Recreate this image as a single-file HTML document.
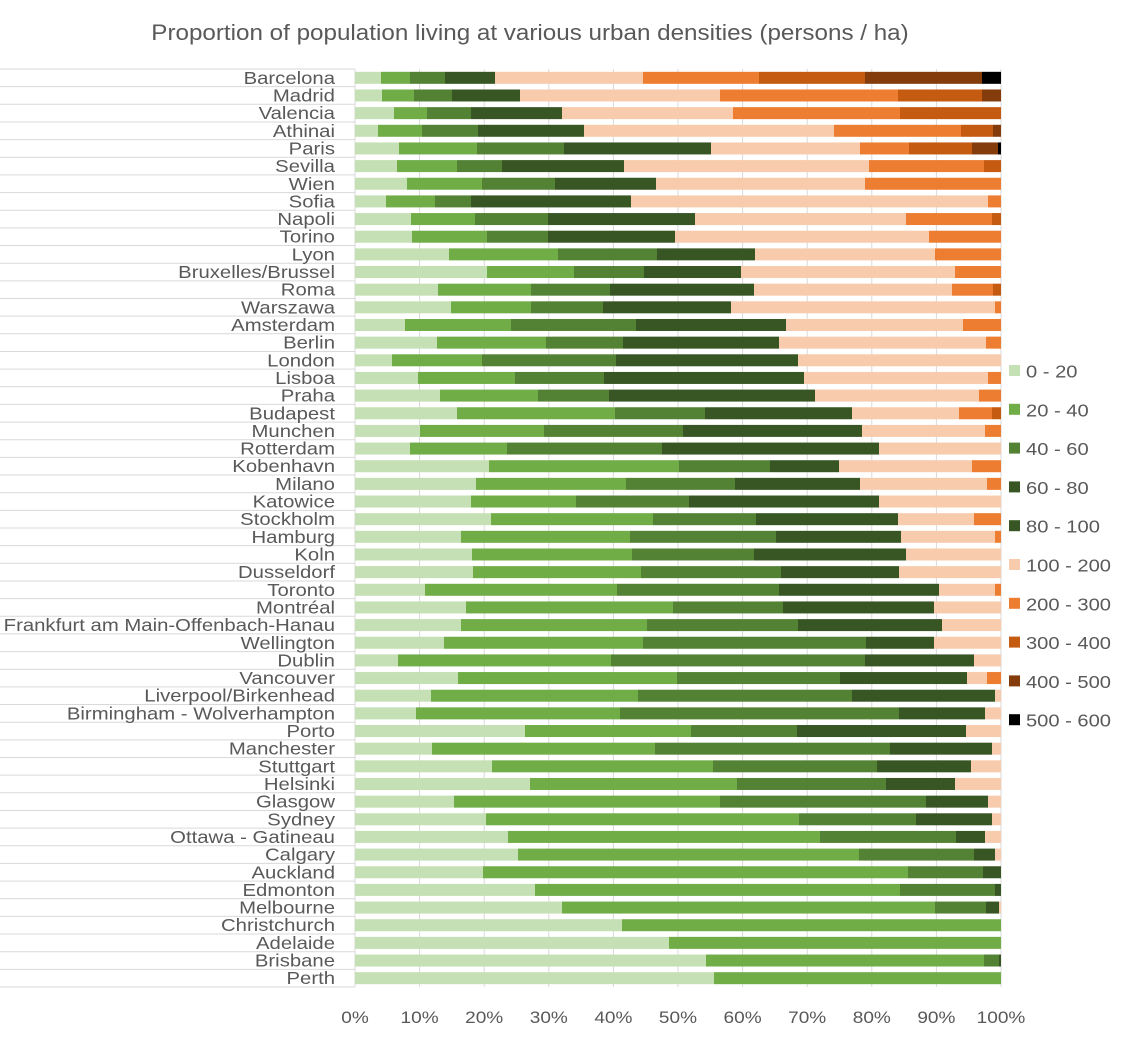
<!DOCTYPE html>
<html><head><meta charset="utf-8"><style>
body{margin:0;background:#fff;}
svg{display:block;font-family:"Liberation Sans",sans-serif;}
</style></head><body>
<svg id="c" width="1132" height="1043" xmlns="http://www.w3.org/2000/svg"></svg>
<script>
const names=["Barcelona","Madrid","Valencia","Athinai","Paris","Sevilla","Wien","Sofia","Napoli","Torino","Lyon","Bruxelles/Brussel","Roma","Warszawa","Amsterdam","Berlin","London","Lisboa","Praha","Budapest","Munchen","Rotterdam","Kobenhavn","Milano","Katowice","Stockholm","Hamburg","Koln","Dusseldorf","Toronto","Montréal","Frankfurt am Main-Offenbach-Hanau","Wellington","Dublin","Vancouver","Liverpool/Birkenhead","Birmingham - Wolverhampton","Porto","Manchester","Stuttgart","Helsinki","Glasgow","Sydney","Ottawa - Gatineau","Calgary","Auckland","Edmonton","Melbourne","Christchurch","Adelaide","Brisbane","Perth"];
const D=[
[381,410,445,495,643,759,865,982,1001],
[382,414,452,520,720,898,982,1001],
[394,427,471,562,733,900,1001],
[378,422,478,584,834,961,993,1001],
[399,477,564,711,860,909,972,998,1001],
[397,457,502,624,869,984,1001],
[407,482,555,656,865,1001],
[386,435,471,631,988,1001],
[411,475,548,695,906,992,1001],
[412,487,548,675,929,1001],
[449,558,657,755,935,1001],
[487,574,644,741,955,1001],
[438,531,610,754,952,993,1001],
[451,531,603,731,995,1001],
[405,511,636,786,963,1001],
[437,546,623,779,986,1001],
[392,482,616,798,1001],
[418,515,604,804,988,1001],
[440,538,609,815,979,1001],
[457,615,705,852,959,992,1001],
[420,544,683,862,985,1001],
[410,507,662,879,1001],
[489,679,770,839,972,1001],
[476,626,735,860,987,1001],
[471,576,689,879,1001],
[491,653,756,898,974,1001],
[461,630,776,901,995,1001],
[472,632,754,906,1001],
[473,641,781,899,1001],
[425,617,779,939,995,1001],
[466,673,783,934,1001],
[461,647,798,942,1001],
[444,643,866,934,1001],
[398,611,865,974,1001],
[458,677,840,967,987,1001],
[431,638,852,995,1001],
[416,620,899,985,1001],
[525,691,797,966,1001],
[432,655,890,992,1001],
[492,713,877,971,1001],
[530,737,886,955,1001],
[454,720,926,988,1001],
[486,799,916,992,1001],
[508,820,956,985,1001],
[518,859,974,995,1001],
[483,908,983,1001],
[535,900,995,1001],
[562,935,986,999,1001],
[622,1001],
[669,1001],
[706,984,999,1001],
[714,1001]];
const C=["#c5e0b4","#70ad47","#548235","#375623","#f8cbad","#ed7d31","#c55a11","#843c0c","#000000"];
let s='';
s+='<text class="w" data-f="1.1" x="530" y="40" text-anchor="middle" font-size="22" fill="#595959">Proportion of population living at various urban densities (persons / ha)</text>';
for(let i=1;i<=10;i++){let x=355+64.6*i;s+=`<line x1="${x}" y1="69" x2="${x}" y2="987" stroke="#d9d9d9" stroke-width="1"/>`;}
const sp=(987-69)/52;
for(let i=0;i<=52;i++){let y=69+sp*i;s+=`<line x1="0" y1="${y}" x2="355" y2="${y}" stroke="#d9d9d9" stroke-width="1"/>`;}
s+=`<line x1="355" y1="69" x2="355" y2="987" stroke="#d9d9d9" stroke-width="1"/>`;
D.forEach((r,i)=>{let yc=69+sp*(i+0.5);let x0=355;
 r.forEach((x,j)=>{if(x>x0)s+=`<rect x="${x0}" y="${yc-6}" width="${x-x0}" height="12" fill="${C[j]}"/>`;x0=x;});
 s+=`<text class="w" data-f="1.16" x="335" y="${yc+6}" text-anchor="end" font-size="17.5" fill="#595959">${names[i]}</text>`;});
for(let i=0;i<=10;i++){s+=`<text class="w" data-f="1.12" x="${355+64.6*i}" y="1023" text-anchor="middle" font-size="17" fill="#595959">${i*10}%</text>`;}
const L=["0 - 20","20 - 40","40 - 60","60 - 80","80 - 100","100 - 200","200 - 300","300 - 400","400 - 500","500 - 600"];
const LC=["#c5e0b4","#70ad47","#548235","#375623","#375623","#f8cbad","#ed7d31","#c55a11","#843c0c","#000000"];
L.forEach((t,i)=>{let y=371+38.8*i;s+=`<rect x="1009" y="${y-6}" width="11" height="11" fill="${LC[i]}"/><text class="w" data-f="1.15" x="1026" y="${y+6.5}" font-size="17.5" fill="#595959">${t}</text>`;});
document.getElementById('c').innerHTML=s;
document.querySelectorAll('text.w').forEach(t=>{try{const w=t.getComputedTextLength();const f=parseFloat(t.getAttribute('data-f'));if(w>0){t.setAttribute('textLength',(w*f).toFixed(1));t.setAttribute('lengthAdjust','spacingAndGlyphs');}}catch(e){}});
</script>
</body></html>
